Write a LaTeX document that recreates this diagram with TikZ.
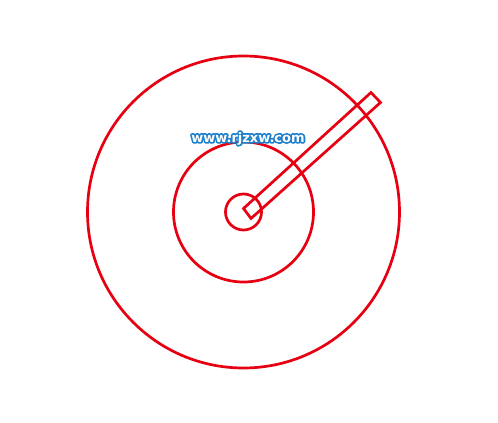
\documentclass[tikz,border=0pt]{standalone}
\usepackage{fontspec}
\usetikzlibrary{calc}
\newfontfamily\wmfont{DejaVu Sans}
\definecolor{cred}{HTML}{E60012}
\definecolor{wblue}{HTML}{1E7FCB}
\begin{document}
\begin{tikzpicture}[x=1pt,y=-1pt,
  ring/.style={draw=cred,line width=2.7pt},
  wm/.style={font=\wmfont\bfseries\fontsize{13}{14}\selectfont,inner sep=0pt}]
\useasboundingbox (0,0) rectangle (498,423);
\fill[white] (0,0) rectangle (498,423);
\coordinate (c) at (243.5,212);
\draw[ring] (c) circle[radius=156];
\draw[ring] (c) circle[radius=70];
\draw[ring] (c) circle[radius=18];
\coordinate (ra) at (243.5,208.5);
\coordinate (rb) at (251,218.5);
\coordinate (rc) at (380.5,102.5);
\coordinate (rd) at (371,92.5);
\draw[ring,line join=miter] (ra) -- (rb) -- (rc) -- (rd) -- cycle;
\node[wm,text=wblue] (wmhalo) at (248,138.5) {\special{pdf:literal 1 Tr 3.4 w 1 j 1 J 0.118 0.498 0.796 RG}www.rjzxw.com\special{pdf:literal 0 Tr}};
\node[wm,text=white] (wmtext) at (248,138.5) {www.rjzxw.com};
\end{tikzpicture}
\end{document}
